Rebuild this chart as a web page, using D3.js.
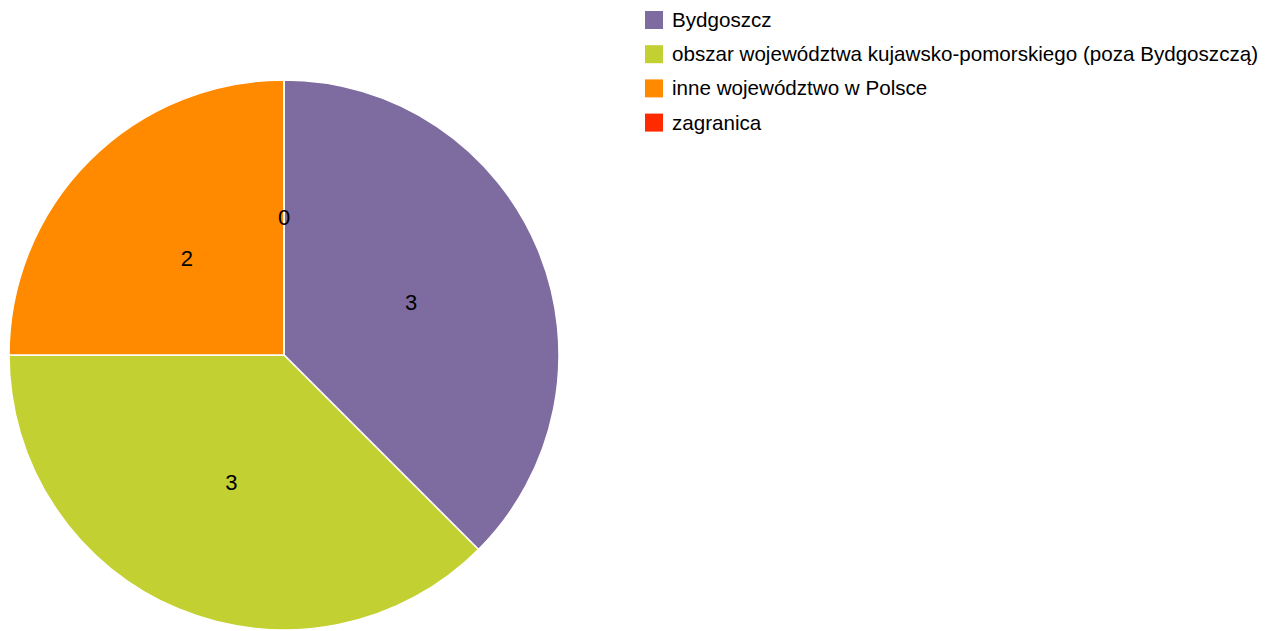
<!DOCTYPE html>
<html>
<head>
<meta charset="utf-8">
<script src="https://cdn.jsdelivr.net/npm/d3@7"></script>
<style>
  body { margin: 0; background: #fff; }
  svg { display: block; font-family: "Liberation Sans", Arial, sans-serif; }
</style>
</head>
<body>
<div id="chart"></div>
<script>
var categories = ["Bydgoszcz", "obszar województwa kujawsko-pomorskiego (poza Bydgoszczą)", "inne województwo w Polsce", "zagranica"];
var values = [3, 3, 2, 0];
var colors = ["#7e6ca1", "#c3d031", "#ff8a00", "#ff2a00"];

var width = 1275, height = 631;
var cx = 284, cy = 355, radius = 275;

var svg = d3.select("#chart").append("svg")
    .attr("width", width)
    .attr("height", height);

// pie in original order, starting at 12 o'clock, clockwise
var pie = d3.pie().sort(null).value(function(d) { return d; });
var arcs = pie(values);

var arc = d3.arc().innerRadius(0).outerRadius(radius);
var labelArc = d3.arc().innerRadius(radius / 2).outerRadius(radius / 2);

var g = svg.append("g").attr("transform", "translate(" + cx + "," + cy + ")");

g.selectAll("path")
    .data(arcs)
    .enter()
    .append("path")
    .attr("d", arc)
    .attr("fill", function(d, i) { return colors[i]; })
    .attr("stroke", "#fff")
    .attr("stroke-width", 1.5);

g.selectAll("text")
    .data(arcs)
    .enter()
    .append("text")
    .attr("transform", function(d) { return "translate(" + labelArc.centroid(d) + ")"; })
    .attr("text-anchor", "middle")
    .attr("dy", "0.36em")
    .attr("font-size", 22)
    .attr("fill", "#000")
    .text(function(d) { return d.data; });

// legend
var legend = svg.append("g").attr("transform", "translate(645,11)");
var items = legend.selectAll("g")
    .data(categories)
    .enter()
    .append("g")
    .attr("transform", function(d, i) { return "translate(0," + (i * 34.2) + ")"; });

items.append("rect")
    .attr("width", 18)
    .attr("height", 18)
    .attr("fill", function(d, i) { return colors[i]; });

items.append("text")
    .attr("x", 27)
    .attr("y", 16)
    .attr("font-size", 20.6)
    .attr("fill", "#000")
    .text(function(d) { return d; });
</script>
</body>
</html>
